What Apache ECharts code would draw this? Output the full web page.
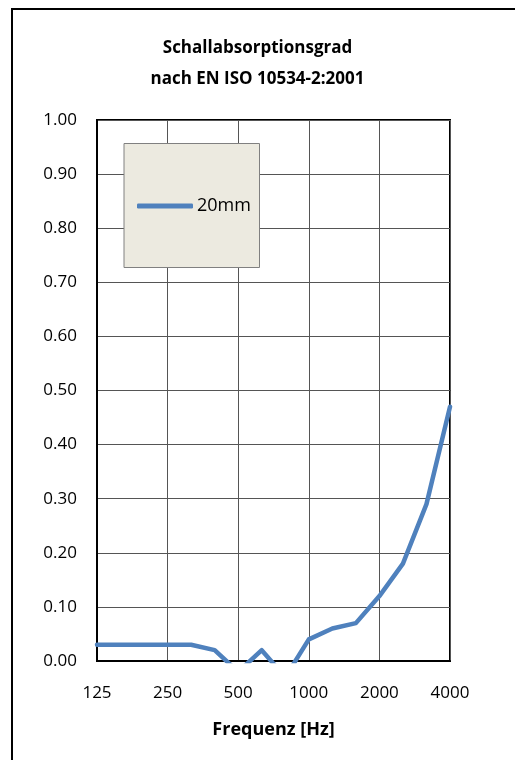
<!DOCTYPE html>
<html>
<head>
<meta charset="utf-8">
<script src="https://cdn.jsdelivr.net/npm/echarts@6/dist/echarts.min.js"></script>
<style>
html,body{margin:0;padding:0;background:#fff;}
#chart{width:515px;height:760px;}
</style>
</head>
<body>
<div id="chart"></div>
<script>
var frequencies = ['125','160','200','250','315','400','500','630','800','1000','1250','1600','2000','2500','3150','4000'];
var absorption20mm = [0.03,0.03,0.03,0.03,0.03,0.02,-0.02,0.02,-0.03,0.04,0.06,0.07,0.12,0.18,0.29,0.47];
var seriesName = '20mm';
var titleText = 'Schallabsorptionsgrad\nnach EN ISO 10534-2:2001';
var xAxisName = 'Frequenz [Hz]';

var FONT = '"Open Sans", "Noto Sans", sans-serif';
var chart = echarts.init(document.getElementById('chart'), null, {renderer: 'canvas'});
chart.setOption({
  backgroundColor: '#ffffff',
  animation: false,
  title: {
    text: titleText,
    left: 'center',
    top: 28,
    textStyle: {fontFamily: FONT, fontSize: 17, fontWeight: 'bold', color: '#000', lineHeight: 31}
  },
  graphic: [
    {type: 'rect', z: 0, silent: true,
     shape: {x: 12, y: 9, width: 1000, height: 1000},
     style: {fill: 'none', stroke: '#000', lineWidth: 2}},
    {type: 'rect', z: 50, silent: true,
     shape: {x: 124, y: 143.5, width: 135.5, height: 124},
     style: {fill: '#ECEAE0', stroke: '#808080', lineWidth: 1}}
  ],
  legend: {
    z: 60,
    left: 137,
    top: 197,
    padding: 0,
    itemWidth: 56,
    itemHeight: 5,
    itemGap: 0,
    icon: 'roundRect',
    textStyle: {fontFamily: FONT, fontSize: 18, color: '#000', padding: [0,0,0,-1]},
    data: [seriesName]
  },
  grid: {
    left: 97, right: 65, top: 120, bottom: 99,
    show: true, borderColor: '#000', borderWidth: 2, backgroundColor: 'transparent'
  },
  xAxis: {
    type: 'category',
    data: frequencies,
    boundaryGap: false,
    name: xAxisName,
    nameLocation: 'middle',
    nameGap: 60,
    nameTextStyle: {fontFamily: FONT, fontSize: 18, fontWeight: 'bold', color: '#000'},
    axisLine: {show: true, lineStyle: {color: '#000', width: 2}},
    axisTick: {show: false},
    axisLabel: {interval: 2, margin: 24, fontFamily: FONT, fontSize: 17, color: '#000'},
    splitLine: {show: true, interval: 2, lineStyle: {color: '#555', width: 1}}
  },
  yAxis: {
    type: 'value',
    min: 0, max: 1, interval: 0.1,
    axisLine: {show: true, lineStyle: {color: '#000', width: 2}},
    axisTick: {show: false},
    axisLabel: {margin: 20, fontFamily: FONT, fontSize: 17, color: '#000',
      formatter: function (v) { return v.toFixed(2); }},
    splitLine: {show: true, lineStyle: {color: '#555', width: 1}}
  },
  series: [{
    name: seriesName,
    type: 'line',
    data: absorption20mm,
    clip: true,
    showSymbol: false,
    symbol: 'none',
    color: '#4F81BD',
    lineStyle: {color: '#4F81BD', width: 4.5, cap: 'round', join: 'round'},
    z: 5
  }]
});
</script>
</body>
</html>
